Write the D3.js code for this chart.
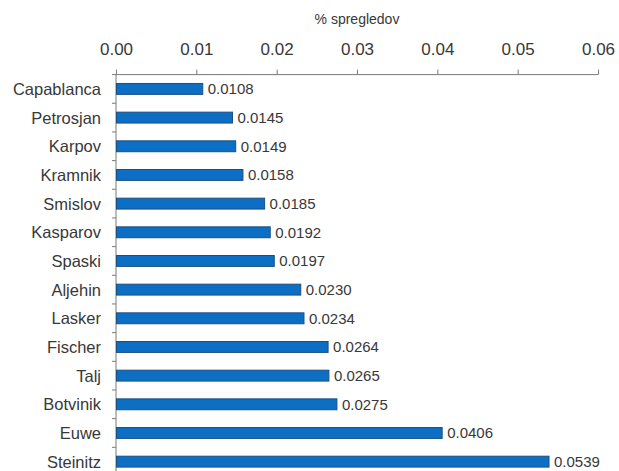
<!DOCTYPE html>
<html>
<head>
<meta charset="utf-8">
<script src="https://cdn.jsdelivr.net/npm/d3@7"></script>
<style>
  html, body { margin: 0; padding: 0; background: #fff; }
  svg { display: block; font-family: "Liberation Sans", Arial, sans-serif; }
</style>
</head>
<body>
<svg id="chart" width="619" height="471"></svg>
<script>
// Share of blunders per world champion
const players = ["Capablanca", "Petrosjan", "Karpov", "Kramnik", "Smislov", "Kasparov", "Spaski",
                 "Aljehin", "Lasker", "Fischer", "Talj", "Botvinik", "Euwe", "Steinitz"];
const shares = [0.0108, 0.0145, 0.0149, 0.0158, 0.0185, 0.0192, 0.0197,
                0.0230, 0.0234, 0.0264, 0.0265, 0.0275, 0.0406, 0.0539];
const xTicks = [0, 0.01, 0.02, 0.03, 0.04, 0.05, 0.06];
const axisTitle = "% spregledov";

const svg = d3.select("#chart");
const plotLeft = 116, plotRight = 598, plotTop = 74.6;
const step = 28.67;

const x = d3.scaleLinear().domain([0, 0.06]).range([plotLeft, plotRight]);
const y = d3.scaleBand().domain(players)
  .range([plotTop, plotTop + step * players.length])
  .paddingInner(0.62).paddingOuter(0.31);

const axisColor = "#7a7a7a";
const textColor = "#383838";

// Top value axis
const xAxis = svg.append("g").attr("transform", `translate(0,${plotTop})`)
  .call(d3.axisTop(x).tickValues(xTicks).tickFormat(d3.format(".2f")).tickSize(5).tickPadding(14.5));
xAxis.select(".domain").attr("stroke", axisColor).attr("d", `M${plotLeft},0H${plotRight}`);
xAxis.selectAll(".tick line").attr("stroke", axisColor);
xAxis.selectAll(".tick text").attr("fill", textColor).attr("font-size", 17)
  .attr("font-family", "'Liberation Sans', Arial, sans-serif");

svg.append("text")
  .attr("x", (plotLeft + plotRight) / 2).attr("y", 23.5)
  .attr("text-anchor", "middle").attr("font-size", 14).attr("fill", textColor)
  .text(axisTitle);

// Category axis: vertical line with ticks between bands
const bounds = d3.range(players.length + 1).map(i => plotTop + i * step);
svg.append("line").attr("x1", plotLeft).attr("x2", plotLeft)
  .attr("y1", plotTop).attr("y2", 471).attr("stroke", axisColor);
svg.selectAll(".ytick").data(bounds).join("line")
  .attr("x1", plotLeft - 4).attr("x2", plotLeft)
  .attr("y1", d => d).attr("y2", d => d)
  .attr("stroke", axisColor);

svg.selectAll(".cat").data(players).join("text")
  .attr("x", plotLeft - 15)
  .attr("y", d => y(d) + y.bandwidth() / 2)
  .attr("dy", "0.36em")
  .attr("text-anchor", "end").attr("font-size", 16.5).attr("fill", textColor)
  .text(d => d);

// Bars
svg.selectAll(".bar").data(players).join("rect")
  .attr("x", x(0) + 0.5)
  .attr("y", d => y(d))
  .attr("width", (d, i) => x(shares[i]) - x(0) - 0.5)
  .attr("height", y.bandwidth())
  .attr("fill", "#0c6fc4")
  .attr("stroke", "#1b4f82").attr("stroke-width", 1);

// Value labels
svg.selectAll(".val").data(players).join("text")
  .attr("x", (d, i) => x(shares[i]) + 5)
  .attr("y", d => y(d) + y.bandwidth() / 2)
  .attr("dy", "0.36em")
  .attr("font-size", 15).attr("fill", textColor)
  .text((d, i) => d3.format(".4f")(shares[i]));
</script>
</body>
</html>
